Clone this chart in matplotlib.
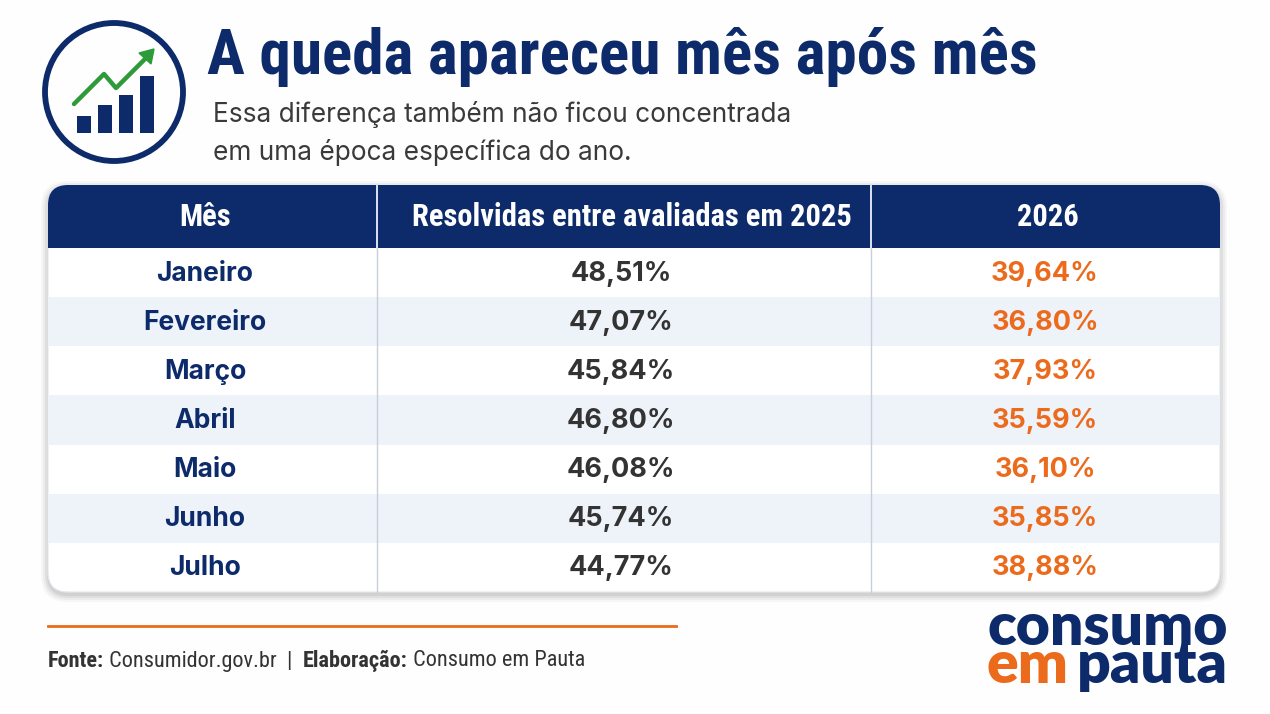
import matplotlib
matplotlib.use("Agg")
import matplotlib.pyplot as plt
from matplotlib.patches import FancyBboxPatch, Rectangle, Circle, Polygon

# ---------------- data ----------------
title = "A queda apareceu mês após mês"
subtitle = ["Essa diferença também não ficou concentrada",
            "em uma época específica do ano."]
headers = ["Mês", "Resolvidas entre avaliadas em 2025", "2026"]
months = ["Janeiro", "Fevereiro", "Março", "Abril", "Maio", "Junho", "Julho"]
values_2025 = [48.51, 47.07, 45.84, 46.80, 46.08, 45.74, 44.77]
values_2026 = [39.64, 36.80, 37.93, 35.59, 36.10, 35.85, 38.88]
footer_runs = [("Fonte:", "bold"), (" Consumidor.gov.br  |  ", "normal"),
               ("Elaboração:", "bold"), (" Consumo em Pauta", "normal")]

NAVY = "#0D2B6B"
ORANGE = "#EC6A1C"
GREEN = "#2E9B3A"
GRAY = "#333333"
STRIPE = "#EEF3FA"

COND = ["Roboto Condensed", "Roboto", "DejaVu Sans"]
SANS = ["Inter", "DejaVu Sans"]
LOGO = ["Lato", "DejaVu Sans"]

def fmt(v):
    return f"{v:.2f}".replace(".", ",") + "%"

W, H = 1270, 714
fig = plt.figure(figsize=(W / 100, H / 100), dpi=100)
fig.patch.set_facecolor("#FEFEFE")
ax = fig.add_axes([0, 0, 1, 1])
ax.set_xlim(0, W)
ax.set_ylim(H, 0)
ax.axis("off")
renderer = fig.canvas.get_renderer()

def fit(t, width):
    w = t.get_window_extent(renderer).width
    t.set_fontsize(t.get_fontsize() * width / w)
    return t

def width_of(t):
    return t.get_window_extent(renderer).width

# ---------------- icon ----------------
ax.add_patch(Circle((114, 92), 69, fill=False, ec=NAVY, lw=4.2))
bar_x = [77, 98, 119, 140]
bar_top = [116, 105, 95, 76]
for bx, bt in zip(bar_x, bar_top):
    ax.add_patch(Rectangle((bx, bt), 13.5, 133 - bt, fc=NAVY, ec="none"))
ax.plot([74, 104, 116, 147], [104, 74, 88, 57], color=GREEN, lw=3.2,
        solid_capstyle="round", solid_joinstyle="round")
ax.add_patch(Polygon([[154, 49], [139, 53], [151, 64]], closed=True, fc=GREEN, ec=GREEN, lw=1))

# ---------------- title ----------------
t = ax.text(207, 57, title, fontsize=40, fontweight="bold", color=NAVY,
            family=COND, ha="left", va="center")
fit(t, 830)
t = ax.text(213, 115, subtitle[0], fontsize=17, color="#3A3A3A", family=SANS,
            ha="left", va="center")
fit(t, 579)
fs_sub = t.get_fontsize()
ax.text(213, 152, subtitle[1], fontsize=fs_sub, color="#3A3A3A", family=SANS,
        ha="left", va="center")

# ---------------- table ----------------
tx0, tx1 = 48, 1220
ty0, ty1 = 185, 592
hdr_bot = 248
row_h = (ty1 - hdr_bot) / len(months)
col_edges = [tx0, 377, 871, tx1]

for off, a in [(7, 0.03), (5, 0.04), (3, 0.05), (1, 0.06)]:
    sh = FancyBboxPatch((tx0 - off, ty0 - off + 3), tx1 - tx0 + 2 * off,
                        ty1 - ty0 + 2 * off,
                        boxstyle="round,pad=0,rounding_size=%d" % (20 + off),
                        fc="black", ec="none", alpha=a)
    ax.add_patch(sh)

card = FancyBboxPatch((tx0, ty0), tx1 - tx0, ty1 - ty0,
                      boxstyle="round,pad=0,rounding_size=20",
                      fc="white", ec="#E3E7EE", lw=0.8, zorder=2)
ax.add_patch(card)

hdr = Rectangle((tx0, ty0), tx1 - tx0, hdr_bot - ty0, fc=NAVY, ec="none", zorder=3)
ax.add_patch(hdr)
hdr.set_clip_path(card)

for i in range(len(months)):
    if i % 2 == 1:
        r = Rectangle((tx0, hdr_bot + i * row_h), tx1 - tx0, row_h,
                      fc=STRIPE, ec="none", zorder=3)
        ax.add_patch(r)
        r.set_clip_path(card)

for xe in col_edges[1:3]:
    ax.plot([xe, xe], [hdr_bot, ty1], color="#C9CFD8", lw=1.0, zorder=4)
    ax.plot([xe, xe], [ty0, hdr_bot], color="#DDE3EE", lw=1.4, zorder=4)

hdr_y = (ty0 + hdr_bot) / 2 + 1
hdr_x = [205, 632, 1048]
ht = [ax.text(hx, hdr_y, h, fontsize=20, fontweight="bold", color="white",
              family=COND, ha="center", va="center", zorder=5)
      for hx, h in zip(hdr_x, headers)]
fit(ht[1], 439)
for h in ht:
    h.set_fontsize(ht[1].get_fontsize())

for i, (m, a, b) in enumerate(zip(months, values_2025, values_2026)):
    yc = hdr_bot + (i + 0.5) * row_h + 1
    ax.text(205, yc, m, fontsize=19, fontweight="bold", color=NAVY,
            family=SANS, ha="center", va="center", zorder=5)
    ax.text(621, yc, fmt(a), fontsize=19.5, fontweight="bold", color=GRAY,
            family=SANS, ha="center", va="center", zorder=5)
    ax.text(1045, yc, fmt(b), fontsize=19.5, fontweight="bold", color=ORANGE,
            family=SANS, ha="center", va="center", zorder=5)

# ---------------- footer ----------------
ax.plot([48, 676], [626, 626], color=ORANGE, lw=2)
runs = [ax.text(0, 661, s, fontsize=14, fontweight=w, color=GRAY, family=COND,
                ha="left", va="center") for s, w in footer_runs]
total = sum(width_of(r) for r in runs)
scale = 540 / total
x = 48
for r in runs:
    r.set_fontsize(r.get_fontsize() * scale)
    r.set_x(x)
    x += width_of(r)

# logo
t1 = ax.text(1228, 645, "consumo", fontsize=40, fontweight="heavy", color=NAVY,
             family=LOGO, ha="right", va="baseline")
fit(t1, 240)
fs_logo = t1.get_fontsize()
ax.text(986, 683, "em", fontsize=fs_logo, fontweight="heavy", color=ORANGE,
        family=LOGO, ha="left", va="baseline")
ax.text(1228, 683, "pauta", fontsize=fs_logo, fontweight="heavy", color=NAVY,
        family=LOGO, ha="right", va="baseline")

fig.savefig("out.png", dpi=100, facecolor=fig.get_facecolor())
